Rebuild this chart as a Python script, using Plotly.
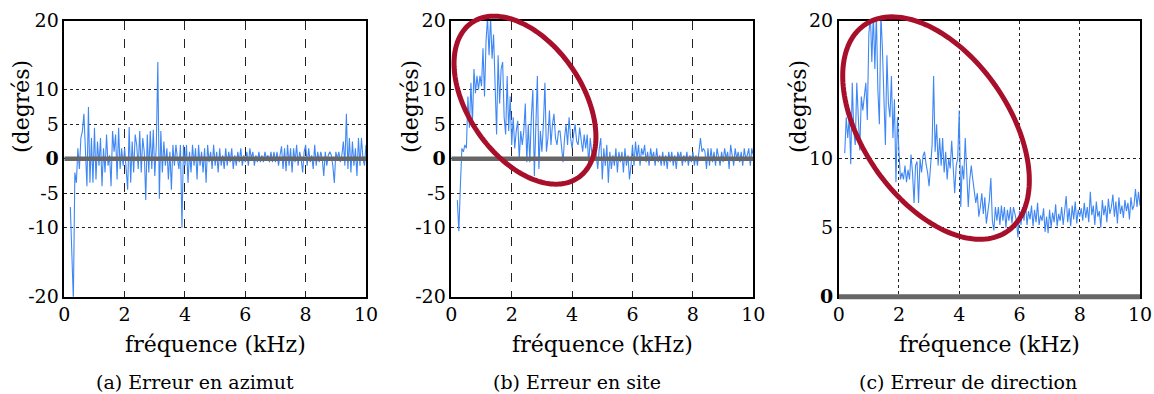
import numpy as np
import plotly.graph_objects as go

W, H = 1154, 394
F0, DF = 0.2, 0.05  # first frequency bin and bin spacing, kHz

# (a) azimuth error, degrees, one row per kHz
azimut = [
    -7, -15.5, -20.5, -2, -3.5, 1.5, -1.5, 3, 4, 6.5, 1, -4, 7.5, -3.5, 3, -3.5,
    4.5, -3, 2.5, -1, 3, -4, 1.5, -2, 3.5, -1, 0.5, -4, 4, 1, 3.5, -3, 4.5, -1.5, 1.5, -1,
    1.5, -2, -4.5, 4.6, -3.5, 2.5, -2, 3.5, 2, -1.5, 4, -2, 3, 1, -6, 3.5, -2, 4, -1.5, 4.2,
    -2.5, 2, 14, -5.8, 4, -2, 2.5, -1, 1.5, -3, 1, -4.5, 2, -1, 2, 0, -1.5, 2, -10, 2,
    -1, 2, -3.5, 1, -2, 2, -1, 1.5, -3, 2, -1, 1, -2, 1.5, -3.5, 2, -0.5, 1, -1.5, 2,
    -1, 1, -2, 1.5, -1, 0.5, -1.5, 1.5, -1, 1, -0.5, 1.5, -1.5, 0.5, -1, 1, -0.5, 1.5, -1, 0.5,
    -0.5, 1, -1, 1.5, 0, 1, -1, 0.5, -0.5, 1, -0.5, 0.5, -0.5, 1, 0, 0.5, -0.5, 1, -0.5, 1,
    -0.5, 1, -1, 0.5, 1.8, -1.5, 1.5, -1.8, 2, -1, 1.5, -2, 1.5, -0.5, 2, -1, 1, 0, -2, 1,
    2, -1, 1.5, -0.5, 0.5, -1.5, 2, -1, 1, -0.5, 1, 0, -2.5, 1, -1, 0.5, 1, 0.5, -1, -3.5,
    1, 0, 1, -0.5, 0.5, 2.5, -1, 6.5, -1.5, 3, -2, 2.5, -1, 1.5, -2.5, 3, -1, 3, 0, -1, 2,
]

# (b) elevation error, degrees
site = [
    -6, -10.5, -4, 1.5, 1, 2, 1.5, 9, 4.5, 11, 5, 13, 9.5, 12, 10, 12,
    10.5, 16, 9, 17, 20.5, 15, 20.5, 14.5, 18, 11, 3.5, 15, 8, 13, 14, 6, 3.5, 12, 4, 9,
    2, 6, 1.5, 4, 5.5, 0, 4, 2, 4, 8, -0.5, 5, -0.5, 6, 10, -2.5, 6, 12, -1.5, 4,
    1, 5, 11, 1, 3, 7, 2, 5, 6.5, 3, 2, 4, 4, 1.5, -0.5, 3, 5, 2, 6, 3,
    1.5, 3.5, 5, 2.5, 2, 4.5, 2.5, 1, 3.5, 1.5, 3.5, -1, 3, 1, 0, 2.5, 0.5, -1.5, 1.5, 3,
    -3, 1.5, -1, 2, -3.5, 1, -1.5, 0.5, -1, 1.5, -2, 1, -0.5, 1, -2, 1.5, -1, 0.5, -3, -1,
    2, -1, 2.5, 0, 2, -1, 1.5, 0.5, 2, -0.5, 1, -1, 1.5, 0, 1, -1, 1.5, -0.5, 0.5, -1,
    1, -1, 0.5, -1.5, 1, -0.5, 1, -1, 0.5, -1.5, 1, 0, 1, -1, 0.5, -0.5, 1, -1, 0.5, -0.5,
    1, -1, 0.5, -1, 1, 3, 1, 1.5, 1, -1.5, 1.5, -1, 1.5, -0.5, 1, -1, 1.5, 0, -1, 1,
    -0.5, 1.5, 0, 1, -1.5, 2, 0.5, -1, 1.5, 0, 1, -0.5, 1, -1, 1.5, 0, 0.5, 1.5, -1, 1.5, 0.5,
]

# (c) direction error, degrees
direction = [
    10.4, 13, 11.5, 13, 9.6, 15.5, 12, 11, 15.5, 13, 10.6, 14.5, 13.5, 14.5, 15.5, 12.8,
    19, 20.5, 17, 20.5, 16.5, 20.5, 15, 12.5, 20.5, 18, 14, 11, 17.5, 14, 13, 16, 11.5, 14.3, 8.3, 13,
    10.5, 8.5, 9, 8.5, 9.5, 8.3, 9.2, 8.5, 10.3, 9, 6.8, 9.5, 9.8, 6.8, 10, 9, 10.2, 10.5, 9.6, 9,
    8, 9.5, 11, 16, 10.5, 12.5, 9.5, 11.5, 9.5, 11.5, 9, 10.5, 8.5, 10, 9.3, 11.3, 9, 7.5, 9.5, 10,
    13.5, 6.5, 9.5, 8.5, 11.5, 9, 6.5, 8.5, 9.5, 8.5, 7.5, 6.8, 7.5, 5.8, 6.5, 7.5, 6, 7.2, 5.3, 6.2,
    7, 8.6, 5.5, 4.8, 6.5, 5.5, 6.5, 5.2, 6.6, 5.5, 6.5, 5.0, 6.3, 5.5, 6.5, 5.3, 6.5, 6, 5.5, 4.3,
    6.2, 5.2, 6.5, 5.5, 6.8, 5.2, 6.2, 5.6, 6.6, 5.1, 6.3, 5.4, 6.8, 5.2, 5.9, 5.5, 6.4, 4.7, 5.8, 4.6,
    6.3, 5, 6.1, 5.4, 6.7, 5.1, 6.0, 5.5, 6.5, 5.2, 6.2, 7.3, 5.4, 6.4, 5.1, 6.6, 5.6, 6.9, 5.3, 6.3,
    5.8, 6.4, 5.5, 6.8, 5.7, 6.5, 5.4, 7.6, 5.9, 6.6, 5.2, 6.9, 5.8, 6.2, 5.0, 7.0, 5.9, 6.6, 5.4, 7.1,
    6.0, 6.5, 7.4, 5.8, 6.9, 5.3, 7.2, 6.0, 6.6, 5.7, 7.0, 6.2, 6.8, 5.6, 7.2, 6.3, 6.6, 7.8, 6.5, 7.6, 6.6,
]

x_ticks = [0, 2, 4, 6, 8, 10]
y_ticks_ab = [-20, -10, -5, 0, 5, 10, 20]
y_ticks_c = [0, 5, 10, 20]
x_title = "fréquence (kHz)"
y_title = "(degrés)"
captions = ["(a) Erreur en azimut", "(b) Erreur en site", "(c) Erreur de direction"]

FONT = "DejaVu Serif"
BLUE = "#3F87F5"
GREY = "#666666"
RED = "#A80F2B"

# plot areas in pixels (left, right), shared top/bottom
x_px = [(64.3, 366.0), (451.3, 753.3), (838.7, 1140.0)]
y_px = (20.7, 296.7)
y_dom = [1 - y_px[1] / H, 1 - y_px[0] / H]
x_dom = [[a / W, b / W] for a, b in x_px]
y_ranges = [[-20, 20], [-20, 20], [0, 20]]
x_range = [0, 10]

series = [azimut, site, direction]

fig = go.Figure()

for i, vals in enumerate(series):
    n = "" if i == 0 else str(i + 1)
    freq = [round(F0 + DF * k, 3) for k in range(len(vals))]
    fig.add_trace(go.Scatter(
        x=freq, y=vals, mode="lines",
        line=dict(color=BLUE, width=1.1),
        xaxis="x" + n, yaxis="y" + n, showlegend=False, hoverinfo="skip",
    ))

    ticks = y_ticks_c if i == 2 else y_ticks_ab
    ticktext = ["<b>0</b>" if t == 0 else str(t) for t in ticks]
    fig.update_layout(**{
        "xaxis" + n: dict(
            domain=x_dom[i], range=x_range, anchor="y" + n,
            tickvals=x_ticks, ticktext=[str(t) for t in x_ticks],
            showgrid=True, gridcolor="#222", gridwidth=1,
            griddash="dot" if i == 2 else "dash",
            showline=True, linecolor="black", linewidth=1.5, mirror=True,
            zeroline=False, ticks="", fixedrange=True, automargin=False,
            tickfont=dict(family=FONT, size=19, color="black"),
        ),
        "yaxis" + n: dict(
            domain=y_dom, range=y_ranges[i], anchor="x" + n,
            tickvals=ticks, ticktext=ticktext,
            showgrid=True, gridcolor="#222", gridwidth=1, griddash="dot",
            showline=True, linecolor="black", linewidth=1.5, mirror=True,
            zeroline=False, ticks="", fixedrange=True, automargin=False,
            tickfont=dict(family=FONT, size=19, color="black"),
        ),
    })

    # thick grey zero reference line
    if i < 2:
        fig.add_shape(type="line", xref="x" + n, yref="y" + n,
                      x0=x_range[0], x1=x_range[1], y0=0, y1=0,
                      line=dict(color=GREY, width=4.5), layer="above")
    else:
        y0_paper = y_dom[0] + (0 - y_ranges[i][0]) / (y_ranges[i][1] - y_ranges[i][0]) * (y_dom[1] - y_dom[0])
        fig.add_shape(type="line", xref="x" + n, yref="paper",
                      x0=x_range[0], x1=x_range[1], y0=y0_paper, y1=y0_paper,
                      line=dict(color=GREY, width=5), layer="above")

    cx = (x_px[i][0] + x_px[i][1]) / 2
    fig.add_annotation(text=x_title, x=cx / W, y=1 - 344 / H, xref="paper", yref="paper",
                       xanchor="center", yanchor="middle", showarrow=False,
                       font=dict(family=FONT, size=22, color="black"))

# y titles and captions
for xc in [22, 411, 799]:
    fig.add_annotation(text=y_title, x=xc / W, y=1 - 107 / H, xref="paper", yref="paper",
                       xanchor="center", yanchor="middle", textangle=-90, showarrow=False,
                       font=dict(family=FONT, size=22, color="black"))
for xc, cap in zip([195, 577, 968], captions):
    fig.add_annotation(text=cap, x=xc / W, y=1 - 382 / H, xref="paper", yref="paper",
                       xanchor="center", yanchor="middle", showarrow=False,
                       font=dict(family=FONT, size=19, color="black"))


def data_to_px(i, xd, yd):
    xr, yr = x_range, y_ranges[i]
    px = x_px[i][0] + (xd - xr[0]) / (xr[1] - xr[0]) * (x_px[i][1] - x_px[i][0])
    py = y_px[1] - (yd - yr[0]) / (yr[1] - yr[0]) * (y_px[1] - y_px[0])
    return px, py


def ellipse_path(i, xc, yc, a, b, angle_deg, n=160):
    cx, cy = data_to_px(i, xc, yc)
    t = np.linspace(0, 2 * np.pi, n)
    th = np.radians(angle_deg)
    px = cx + a * np.cos(th) * np.cos(t) - b * np.sin(th) * np.sin(t)
    py = cy + a * np.sin(th) * np.cos(t) + b * np.cos(th) * np.sin(t)
    pts = [f"{x / W:.5f},{1 - y / H:.5f}" for x, y in zip(px, py)]
    return "M " + " L ".join(pts) + " Z"


# highlighted regions: (panel, centre kHz, centre degrees, semi-axes px, tilt)
highlights = [
    (1, 2.44, 8.48, 94, 57, 55.6),
    (2, 3.23, 12.22, 125.5, 73, 55.3),
]
for i, xc, yc, a, b, ang in highlights:
    fig.add_shape(type="path", xref="paper", yref="paper",
                  path=ellipse_path(i, xc, yc, a, b, ang),
                  line=dict(color=RED, width=5), layer="above")

fig.update_layout(
    width=W, height=H,
    margin=dict(l=0, r=0, t=0, b=0),
    paper_bgcolor="white", plot_bgcolor="white",
    showlegend=False,
)

fig.write_html("out.html")
